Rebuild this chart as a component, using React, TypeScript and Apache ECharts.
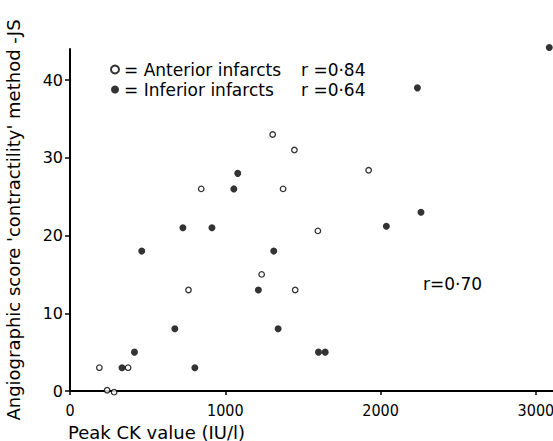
import React, { useEffect, useRef } from "react";
import * as echarts from "echarts";

const anteriorCK = [1305, 1445, 845, 1372, 1923, 1596, 1234, 763, 1450, 189, 374, 239, 284];
const anteriorScore = [33, 31, 26, 26, 28.4, 20.6, 15, 13, 13, 3, 3, 0.1, -0.15];
const inferiorCK = [3086, 2237, 1080, 1055, 727, 914, 2260, 2037, 462, 1312, 1213, 675, 1340, 415, 335, 804, 1600, 1643];
const inferiorScore = [44.2, 39, 28, 26, 21, 21, 23, 21.2, 18, 18, 13, 8, 8, 5, 3, 3, 5, 5];
const xTicks = [0, 1000, 2000, 3000];
const yTicks = [0, 10, 20, 30, 40];
const seriesNames = ["Anterior infarcts", "Inferior infarcts"];
const rValues = ["r =0·84", "r =0·64"];
const overallR = "r=0·70";
const xTitle = "Peak CK value (IU/l)";
const yTitle = "Angiographic score 'contractility' method -JS";

const FONT = '"DejaVu Sans", "Noto Sans", sans-serif';
const NUMFONT = '"DejaVu Sans Condensed", "DejaVu Sans", sans-serif';

export default function App() {
  const ref = useRef<HTMLDivElement>(null);
  useEffect(() => {
    if (!ref.current) return;
    const chart = echarts.init(ref.current, null, { renderer: "svg" });
    const pair = (xs: number[], ys: number[]) => xs.map((x, i) => [x, ys[i]]);
    chart.setOption({
      animation: false,
      backgroundColor: "#ffffff",
      textStyle: { fontFamily: FONT, color: "#000" },
      grid: { left: 70, right: 0, top: 49, bottom: 50, outerBoundsMode: "none", containLabel: false },
      legend: {
        orient: "vertical",
        left: 105,
        top: 56,
        itemWidth: 8,
        itemHeight: 8,
        itemGap: 3,
        data: seriesNames,
        textStyle: {
          fontFamily: FONT,
          fontSize: 17,
          color: "#000",
          rich: {
            a: { fontFamily: FONT, fontSize: 17, color: "#000", width: 177 },
            b: { fontFamily: FONT, fontSize: 17, color: "#000" },
          },
        },
        formatter: (name: string) => {
          const i = seriesNames.indexOf(name);
          return `{a|= ${name}}{b|${rValues[i]}}`;
        },
      },
      xAxis: {
        type: "value",
        min: 0,
        max: 3110,
        interval: 1000,
        splitLine: { show: false },
        axisLine: { show: true, onZero: false, lineStyle: { color: "#000", width: 2 } },
        axisTick: { show: true, length: 4, lineStyle: { color: "#000", width: 1.5 }, customValues: xTicks },
        axisLabel: {
          fontFamily: NUMFONT,
          fontSize: 16,
          color: "#000",
          margin: 11,
          customValues: xTicks,
          formatter: (v: number) => String(v),
        },
      },
      yAxis: {
        type: "value",
        min: 0,
        max: 44,
        interval: 10,
        splitLine: { show: false },
        name: yTitle,
        nameLocation: "middle",
        nameGap: 48,
        nameTextStyle: { fontFamily: FONT, fontSize: 18, color: "#000" },
        axisLine: { show: true, onZero: false, lineStyle: { color: "#000", width: 2 } },
        axisTick: { show: true, length: 5, lineStyle: { color: "#000", width: 1.5 }, customValues: yTicks },
        axisLabel: { fontFamily: FONT, fontSize: 16, color: "#000", margin: 7, customValues: yTicks },
      },
      graphic: [
        {
          type: "text",
          left: 68,
          top: 423,
          style: { text: xTitle, font: `18px ${FONT}`, fill: "#000" },
        },
        {
          type: "text",
          left: 423,
          top: 275,
          style: { text: overallR, font: `17px ${FONT}`, fill: "#000" },
        },
      ],
      series: [
        {
          name: seriesNames[0],
          type: "scatter",
          clip: false,
          symbol: "circle",
          symbolSize: 5.5,
          itemStyle: { color: "#fff", borderColor: "#000", borderWidth: 1.3 },
          data: pair(anteriorCK, anteriorScore),
        },
        {
          name: seriesNames[1],
          type: "scatter",
          clip: false,
          symbol: "circle",
          symbolSize: 7,
          itemStyle: { color: "#000", borderColor: "#000", borderWidth: 0 },
          data: pair(inferiorCK, inferiorScore),
        },
      ],
    });
    return () => chart.dispose();
  }, []);
  return (
    <div
      ref={ref}
      style={{ position: "fixed", left: 0, top: 0, width: 553, height: 441 }}
    />
  );
}
